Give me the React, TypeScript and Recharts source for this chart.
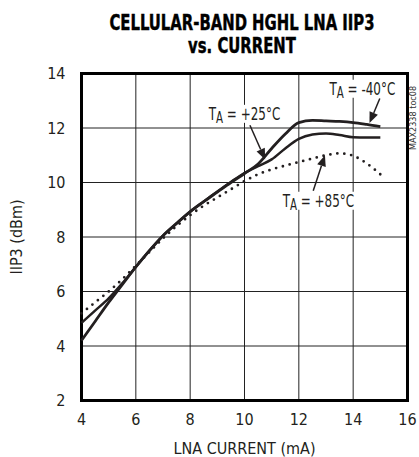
import {
  CartesianGrid,
  Label,
  Line,
  LineChart,
  ReferenceArea,
  ReferenceDot,
  ReferenceLine,
  XAxis,
  YAxis,
} from "recharts";

// ── data ────────────────────────────────────────────────────────────────────

const current = [4, 4.5, 5, 5.5, 6, 6.5, 7, 7.5, 8, 8.5, 9, 9.5, 10, 10.5, 11, 11.5, 12, 12.5, 13, 13.5, 14, 14.5, 15];
const iip3Minus40 = [4.2, 4.9, 5.6, 6.25, 6.9, 7.5, 8.05, 8.5, 8.93, 9.3, 9.65, 10.0, 10.33, 10.68, 11.25, 11.78, 12.2, 12.28, 12.26, 12.24, 12.2, 12.13, 12.05];
const iip3Plus25 = [4.85, 5.3, 5.75, 6.3, 6.9, 7.5, 8.05, 8.5, 8.93, 9.3, 9.67, 10.02, 10.35, 10.6, 10.85, 11.25, 11.6, 11.76, 11.8, 11.74, 11.66, 11.65, 11.65];
const iip3Plus85 = [5.2, 5.6, 6.0, 6.45, 6.95, 7.45, 7.95, 8.4, 8.8, 9.15, 9.45, 9.75, 10.05, 10.3, 10.48, 10.62, 10.75, 10.88, 11.0, 11.07, 10.98, 10.7, 10.3];

const xTicks = [4, 6, 8, 10, 12, 14, 16];
const yTicks = [2, 4, 6, 8, 10, 12, 14];

// annotation labels: [x, y, sign+temp]
const tempLabels: [number, number, string][] = [
  [10.0, 12.52, "+25°C"],
  [14.34, 13.44, "-40°C"],
  [12.72, 9.33, "+85°C"],
];

// arrows: [fromX, fromY, tipX, tipY]
const arrows: [number, number, number, number][] = [
  [10.2, 12.1, 10.76, 10.84],
  [14.98, 13.08, 14.6, 12.18],
  [12.53, 9.7, 12.96, 11.0],
];

const data = current.map((x, i) => ({
  x,
  m40: iip3Minus40[i],
  p25: iip3Plus25[i],
  p85: iip3Plus85[i],
}));

const FONT = "'DejaVu Sans Condensed', 'Liberation Sans', sans-serif";
const INK = "#231f20";

// ── custom shapes ───────────────────────────────────────────────────────────

interface ArrowProps {
  x1?: number;
  y1?: number;
  x2?: number;
  y2?: number;
  [key: string]: unknown;
}

function Arrow({ x1 = 0, y1 = 0, x2 = 0, y2 = 0 }: ArrowProps) {
  const ang = Math.atan2(y2 - y1, x2 - x1);
  const len = 11;
  const half = 4.5;
  const bx = x2 - len * Math.cos(ang);
  const by = y2 - len * Math.sin(ang);
  const px = -Math.sin(ang) * half;
  const py = Math.cos(ang) * half;
  return (
    <g>
      <line x1={x1} y1={y1} x2={bx} y2={by} stroke={INK} strokeWidth={1.5} />
      <polygon points={`${x2},${y2} ${bx + px},${by + py} ${bx - px},${by - py}`} fill={INK} />
    </g>
  );
}

interface TagProps {
  cx?: number;
  cy?: number;
  text: string;
  [key: string]: unknown;
}

function TempTag({ cx = 0, cy = 0, text }: TagProps) {
  const w = 80;
  const h = 18;
  return (
    <g>
      <rect x={cx - w / 2} y={cy - h / 2} width={w} height={h} fill="#fff" />
      <text
        x={cx}
        y={cy + 6.3}
        textAnchor="middle"
        fontFamily={FONT}
        fontSize={17.5}
        fill={INK}
        transform={`translate(${cx} 0) scale(0.76 1) translate(${-cx} 0)`}
      >
        T
        <tspan fontSize={15} dy={2.5}>A</tspan>
        <tspan dy={-2.5}>{` = ${text}`}</tspan>
      </text>
    </g>
  );
}

// ── App ─────────────────────────────────────────────────────────────────────

export default function App() {
  return (
    <div style={{ position: "absolute", left: 0, top: 0, width: 419, height: 457, background: "#fff" }}>
      <div
        style={{
          position: "absolute",
          left: 0,
          top: 11.5,
          width: 484,
          textAlign: "center",
          fontFamily: FONT,
          fontWeight: 700,
          fontSize: 20.5,
          lineHeight: "23px",
          color: "#000",
          transform: "scaleX(0.805)",
          transformOrigin: "242px 0",
          WebkitTextStroke: "0.4px #000",
        }}
      >
        CELLULAR-BAND HGHL LNA IIP3
        <br />
        vs. CURRENT
      </div>
      <div
        style={{
          position: "absolute",
          left: 408,
          top: 74,
          width: 12,
          height: 76,
          fontFamily: FONT,
          fontSize: 9,
          color: "#333",
          writingMode: "vertical-rl",
          transform: "rotate(180deg)",
          whiteSpace: "nowrap",
        }}
      >
        MAX2338 toc08
      </div>
      <LineChart
        width={419}
        height={457}
        data={data}
        margin={{ top: 73.5, right: 11.5, bottom: 0, left: 0 }}
        style={{ position: "absolute", left: 0, top: 0 }}
      >
        <CartesianGrid stroke="#222" strokeWidth={1} />
        <XAxis
          dataKey="x"
          type="number"
          domain={[4, 16]}
          ticks={xTicks}
          height={56.5}
          tickLine={false}
          axisLine={false}
          tickSize={0}
          tickMargin={13}
          tick={{ fontFamily: FONT, fontSize: 16, fill: INK }}
        >
          <Label
            value="LNA CURRENT (mA)"
            position="insideBottom"
            offset={3}
            style={{ fontFamily: FONT, fontSize: 16, fill: INK }}
          />
        </XAxis>
        <YAxis
          type="number"
          domain={[2, 14]}
          ticks={yTicks}
          width={81.5}
          tickLine={false}
          axisLine={false}
          tickSize={0}
          tickMargin={16}
          tick={{ fontFamily: FONT, fontSize: 16, fill: INK }}
        >
          <Label
            value="IIP3 (dBm)"
            angle={-90}
            position="insideLeft"
            offset={16}
            style={{ fontFamily: FONT, fontSize: 16, fill: INK, textAnchor: "middle" }}
          />
        </YAxis>
        <ReferenceArea x1={4} x2={16} y1={2} y2={14} fill="none" stroke="#000" strokeWidth={3} ifOverflow="visible" />
        <Line
          dataKey="p85"
          type="monotone"
          stroke={INK}
          strokeWidth={2.8}
          strokeDasharray="0 7"
          strokeLinecap="round"
          dot={false}
          isAnimationActive={false}
        />
        <Line dataKey="p25" type="monotone" stroke={INK} strokeWidth={2.5} dot={false} isAnimationActive={false} />
        <Line dataKey="m40" type="monotone" stroke={INK} strokeWidth={2.8} dot={false} isAnimationActive={false} />
        {tempLabels.map(([x, y, t]) => (
          <ReferenceDot key={t} x={x} y={y} r={0} ifOverflow="visible" shape={<TempTag text={t} />} />
        ))}
        {arrows.map(([fx, fy, tx, ty], i) => (
          <ReferenceLine
            key={i}
            segment={[{ x: fx, y: fy }, { x: tx, y: ty }]}
            ifOverflow="visible"
            shape={<Arrow />}
          />
        ))}
      </LineChart>
    </div>
  );
}
